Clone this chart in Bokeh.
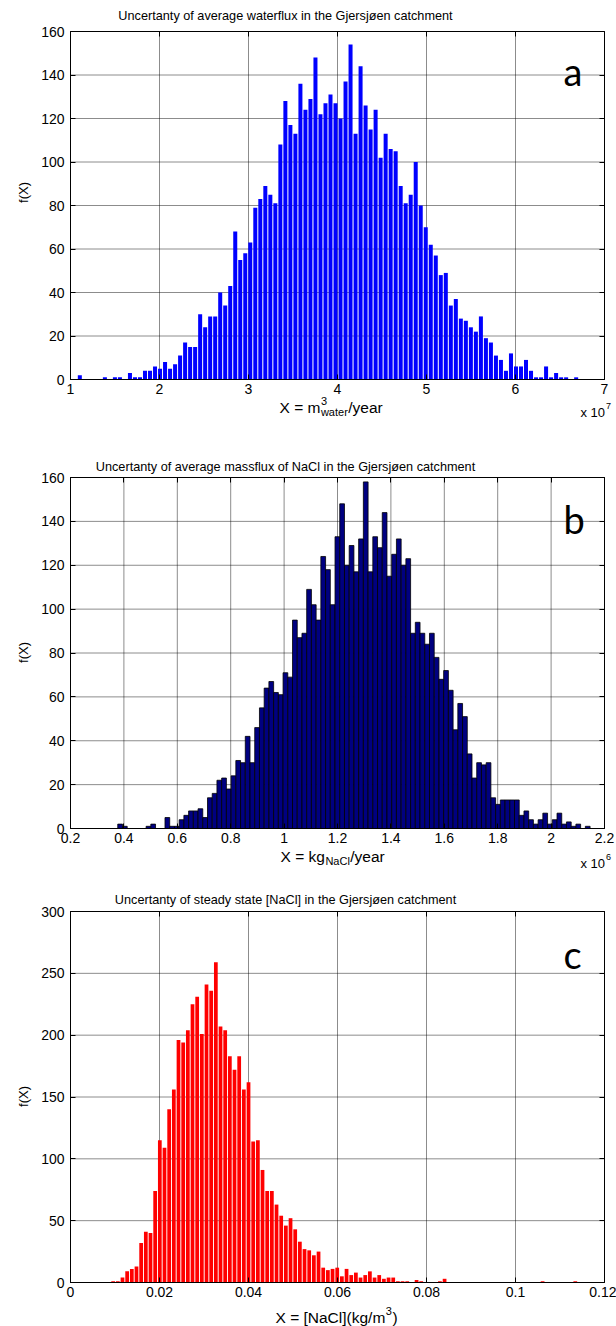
import numpy as np
from bokeh.plotting import figure
from bokeh.models import Range1d, FixedTicker, LinearAxis, Label
from bokeh.layouts import column
from bokeh.embed import file_html
from bokeh.resources import INLINE

# ---------------- data ----------------
# Panel a: average waterflux (x in units of 1e7 m3/year), 100 bins
a_first_center = 1.1048
a_bin_width = 0.05633
a_counts = [2, 0, 0, 0, 0, 1, 0, 1, 1, 0,
            3, 1, 1, 4, 4, 6, 5, 8, 5, 7,
            11, 17, 15, 15, 30, 24, 29, 29, 40, 34,
            43, 68, 55, 58, 63, 79, 83, 89, 85, 81,
            108, 128, 117, 113, 136, 124, 129, 148, 122, 127,
            131, 127, 120, 137, 154, 113, 144, 126, 115, 124,
            102, 113, 106, 105, 89, 81, 85, 100, 80, 70,
            62, 57, 48, 49, 34, 37, 28, 27, 24, 22,
            29, 19, 17, 11, 9, 4, 12, 6, 6, 9,
            4, 1, 1, 6, 1, 3, 1, 1, 0, 1]
a_xticks = [1, 2, 3, 4, 5, 6, 7]
a_xlabels = ["1", "2", "3", "4", "5", "6", "7"]
a_yticks = [0, 20, 40, 60, 80, 100, 120, 140, 160]

# Panel b: average massflux of NaCl (x in units of 1e6 kg/year), 100 bins
b_first_edge = 0.377
b_bin_width = 0.01769
b_counts = [2, 1, 0, 0, 0, 0, 1, 2, 0, 0,
            5, 1, 1, 4, 6, 8, 8, 9, 5, 14,
            16, 22, 23, 18, 24, 31, 30, 42, 30, 46,
            55, 64, 67, 62, 61, 71, 69, 95, 87, 89,
            109, 102, 95, 124, 118, 102, 133, 148, 120, 129,
            117, 132, 158, 117, 133, 128, 144, 115, 125, 132,
            120, 123, 89, 94, 89, 84, 89, 78, 68, 72,
            63, 45, 57, 51, 34, 23, 30, 29, 30, 14,
            11, 13, 13, 13, 13, 6, 8, 4, 2, 4,
            7, 2, 4, 7, 2, 3, 1, 2, 0, 1]
b_xticks = [0.2, 0.4, 0.6, 0.8, 1.0, 1.2, 1.4, 1.6, 1.8, 2.0, 2.2]
b_xlabels = ["0.2", "0.4", "0.6", "0.8", "1", "1.2", "1.4", "1.6", "1.8", "2", "2.2"]
b_yticks = [0, 20, 40, 60, 80, 100, 120, 140, 160]

# Panel c: steady state [NaCl] (kg/m3), 100 bins
c_first_edge = 0.00906
c_bin_width = 0.001049
c_counts = [1, 1, 4, 9, 11, 13, 32, 41, 40, 74,
            115, 109, 140, 156, 196, 194, 204, 225, 231, 201,
            241, 236, 259, 207, 204, 183, 172, 183, 156, 162,
            114, 115, 91, 74, 74, 63, 54, 46, 52, 43,
            33, 27, 26, 22, 25, 12, 10, 11, 12, 5,
            11, 6, 8, 4, 6, 9, 4, 6, 3, 4,
            4, 1, 1, 1, 0, 2, 1, 0, 0, 0,
            1, 3, 0, 0, 0, 0, 0, 0, 0, 0,
            0, 0, 0, 0, 0, 0, 0, 0, 0, 0,
            0, 0, 1, 0, 0, 0, 0, 0, 0, 1]
c_xticks = [0, 0.02, 0.04, 0.06, 0.08, 0.1, 0.12]
c_xlabels = ["0", "0.02", "0.04", "0.06", "0.08", "0.1", "0.12"]
c_yticks = [0, 50, 100, 150, 200, 250, 300]

titles = ["Uncertanty of average waterflux in the Gjersjøen catchment",
          "Uncertanty of average massflux of NaCl in the Gjersjøen catchment",
          "Uncertanty of steady state [NaCl] in the Gjersjøen catchment"]
letters = ["a", "b", "c"]

# ---------------- styling ----------------
FONT = "Liberation Sans"
TICK_FS = 14
TITLE_FS = 12.7
LAB_FS = 15.5
SUB_FS = 11
W = 616
BX0, BX1 = 70, 604  # plot box left/right in page px

# Arial-like advance widths (em)
AW = {'X': .667, ' ': .278, '=': .584, 'm': .833, 'w': .722, 'a': .556, 't': .278,
      'e': .556, 'r': .333, '/': .278, 'y': .5, 'k': .5, 'g': .556, 'N': .722,
      'C': .722, 'l': .222, '[': .278, ']': .278, '(': .333, ')': .333,
      '3': .556, '6': .556, '7': .556, 'x': .5, '1': .556, '0': .556}


def tw(s, fs):
    return sum(AW.get(ch, .556) for ch in s) * fs


def make_panel(page_top, height, box_top, box_bot, xr, yr, xticks, xlabels, yticks):
    sx = (xr[1] - xr[0]) / (BX1 - BX0)
    sy = (yr[1] - yr[0]) / (box_bot - box_top)
    x_range = Range1d(xr[0] - BX0 * sx, xr[0] + (W - BX0) * sx)
    y_range = Range1d(yr[0] - (page_top + height - box_bot) * sy, yr[1] + (box_top - page_top) * sy)
    p = figure(width=W, height=height, x_range=x_range, y_range=y_range,
               output_backend="svg", toolbar_location=None,
               x_axis_location=None, y_axis_location=None,
               min_border_left=0, min_border_right=0, min_border_top=0, min_border_bottom=0)
    p.title.visible = False
    p.grid.visible = False
    p.outline_line_color = None
    p.background_fill_color = "white"
    p.border_fill_color = "white"

    # dotted grid lines inside the plot box, drawn from the tick lists
    p.segment(x0=xticks, y0=[yr[0]] * len(xticks), x1=xticks, y1=[yr[1]] * len(xticks),
              line_color="black", line_alpha=0.9, line_dash="1 1", line_width=1)
    p.segment(x0=[xr[0]] * len(yticks), y0=yticks, x1=[xr[1]] * len(yticks), y1=yticks,
              line_color="black", line_alpha=0.9, line_dash="1 1", line_width=1)

    def axis(ticks, loc, bounds, labels=None):
        ax = LinearAxis(ticker=FixedTicker(ticks=ticks), fixed_location=loc, bounds=bounds,
                        major_tick_in=5, major_tick_out=0, minor_tick_line_color=None,
                        axis_line_color="black", axis_line_width=1,
                        major_tick_line_color="black",
                        major_label_text_font=FONT,
                        major_label_text_font_size=f"{TICK_FS}px",
                        major_label_text_color="black")
        if labels is None:
            ax.major_label_overrides = {t: "" for t in ticks}
        else:
            ax.major_label_overrides = dict(zip(ticks, labels))
        return ax

    bot = axis(xticks, yr[0], xr, xlabels)
    bot.major_label_standoff = 4
    left = axis(yticks, xr[0], yr, [str(t) for t in yticks])
    left.major_label_standoff = 6
    top = axis(xticks, yr[1], xr)
    right = axis(yticks, xr[1], yr)
    p.add_layout(bot, "below")
    p.add_layout(left, "left")
    p.add_layout(top, "above")
    p.add_layout(right, "right")

    def px2x(px):
        return xr[0] + (px - BX0) * sx

    def py2y(py):
        return yr[0] + (box_bot - py) * sy

    return p, px2x, py2y


def lab(p, x, y, text, fs, align="left", baseline="alphabetic", font=FONT, angle=0):
    p.add_layout(Label(x=x, y=y, text=text, text_font=font, text_font_size=f"{fs}px",
                       text_align=align, text_baseline=baseline, text_color="black",
                       angle=angle))


def decorate(p, px2x, py2y, title, title_base, letter, letter_base, ylab_center):
    lab(p, px2x(285), py2y(title_base), title, TITLE_FS, align="center")
    lab(p, px2x(563), py2y(letter_base), letter, 38, font="Lato")
    lab(p, px2x(23), py2y(ylab_center), "f(X)", 13, align="center", baseline="middle",
        angle=np.pi / 2)


def seq_label(p, px2x, py2y, x0, base, parts):
    x = x0
    for text, kind in parts:
        if kind == "n":
            lab(p, px2x(x), py2y(base), text, LAB_FS)
            x += tw(text, LAB_FS)
        elif kind == "sup":
            lab(p, px2x(x + 0.5), py2y(base - 7), text, SUB_FS)
            x += tw(text, SUB_FS) + 1
        elif kind == "sub":
            lab(p, px2x(x + 0.5), py2y(base + 4), text, SUB_FS)
            x += tw(text, SUB_FS) + 1
        elif kind == "supsub":
            sup, sub = text
            lab(p, px2x(x + 0.5), py2y(base - 7), sup, SUB_FS)
            lab(p, px2x(x + 0.5), py2y(base + 4), sub, SUB_FS)
            x += max(tw(sup, SUB_FS), tw(sub, SUB_FS)) + 1


# ---------------- panel a ----------------
pa, ax_, ay_ = make_panel(0, 432, 31, 379, (1, 7), (0, 160), a_xticks, a_xlabels, a_yticks)
a_centers = a_first_center + a_bin_width * np.arange(len(a_counts))
pa.vbar(x=a_centers, top=a_counts, bottom=0, width=a_bin_width * 0.8,
        fill_color="#0000FF", line_color=None)
decorate(pa, ax_, ay_, titles[0], 15, letters[0], 70, 192)
seq_label(pa, ax_, ay_, 279, 407, [("X = m", "n"), (("3", "water"), "supsub"), ("/year", "n")])
lab(pa, ax_(580), ay_(412), "x 10", 13)
lab(pa, ax_(580 + tw("x 10", 13) + 1), ay_(405), "7", 9)

# ---------------- panel b ----------------
pb, bx_, by_ = make_panel(432, 444, 477, 828, (0.2, 2.2), (0, 160), b_xticks, b_xlabels, b_yticks)
b_centers = b_first_edge + b_bin_width * (np.arange(len(b_counts)) + 0.5)
pb.vbar(x=b_centers, top=b_counts, bottom=0, width=b_bin_width,
        fill_color="#000080", line_color="black", line_width=0.8)
decorate(pb, bx_, by_, titles[1], 466, letters[1], 518, 652)
seq_label(pb, bx_, by_, 280, 856, [("X = kg", "n"), ("NaCl", "sub"), ("/year", "n")])
lab(pb, bx_(580), by_(863), "x 10", 13)
lab(pb, bx_(580 + tw("x 10", 13) + 1), by_(856), "6", 9)

# ---------------- panel c ----------------
pc, cx_, cy_ = make_panel(876, 450, 911, 1282, (0, 0.12), (0, 300), c_xticks, c_xlabels, c_yticks)
c_centers = c_first_edge + c_bin_width * (np.arange(len(c_counts)) + 0.5)
pc.vbar(x=c_centers, top=c_counts, bottom=0, width=c_bin_width * 0.8,
        fill_color="#FF0000", line_color=None)
decorate(pc, cx_, cy_, titles[2], 899, letters[2], 953, 1096)
seq_label(pc, cx_, cy_, 275, 1317, [("X = [NaCl](kg/m", "n"), ("3", "sup"), (")", "n")])

layout = column(pa, pb, pc, spacing=0)
open("out.html", "w").write(file_html(layout, INLINE))
